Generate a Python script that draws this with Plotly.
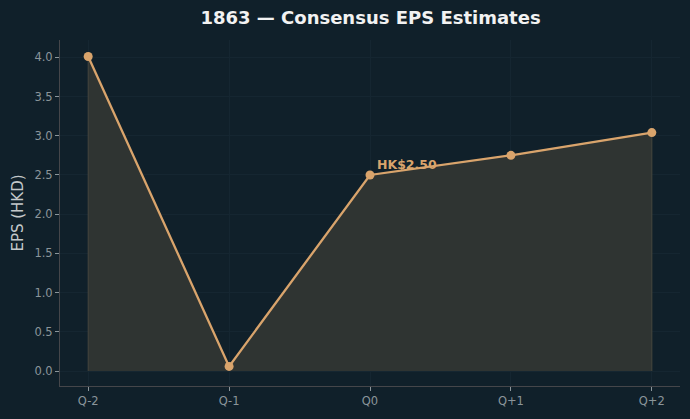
import plotly.graph_objects as go

quarters = ["Q-2", "Q-1", "Q0", "Q+1", "Q+2"]
eps = [4.01, 0.06, 2.50, 2.75, 3.04]
y_ticks = [0.0, 0.5, 1.0, 1.5, 2.0, 2.5, 3.0, 3.5, 4.0]
label_text = "HK$2.50"
label_idx = 2

BG = "#10202a"
LINE = "#d9a46c"
TICK = "#8b959a"
AXIS = "#45464a"
GRID = "#152631"

fig = go.Figure()

# filled area polygon (fill_between style with edge)
poly_x = [quarters[0]] + quarters + [quarters[-1]]
poly_y = [0] + eps + [0]
fig.add_trace(go.Scatter(
    x=poly_x, y=poly_y, mode="lines", fill="toself",
    fillcolor="#2f3432",
    line=dict(color="#46463e", width=1),
    hoverinfo="skip", showlegend=False,
))

fig.add_trace(go.Scatter(
    x=quarters, y=eps, mode="lines+markers",
    line=dict(color=LINE, width=2.3),
    marker=dict(color=LINE, size=9),
    showlegend=False,
))

fig.add_annotation(
    x=quarters[label_idx], y=eps[label_idx], text=f"<b>{label_text}</b>",
    showarrow=False, xanchor="left", yanchor="bottom", xshift=5, yshift=1,
    font=dict(color=LINE, size=12.5, family="DejaVu Sans"),
)

fig.update_layout(
    width=690, height=419,
    paper_bgcolor=BG, plot_bgcolor=BG,
    margin=dict(l=60, r=10, t=40, b=33),
    title=dict(text="<b>1863 — Consensus EPS Estimates</b>", x=0.537, xanchor="center",
               y=0.957, yanchor="middle",
               font=dict(color="#f2f2f2", size=18, family="DejaVu Sans")),
    font=dict(family="DejaVu Sans", color=TICK, size=11),
    xaxis=dict(
        type="category", range=[-0.2, 4.2],
        showline=True, linecolor=AXIS, linewidth=1,
        ticks="outside", ticklen=4, tickcolor=TICK,
        showgrid=True, gridcolor=GRID, gridwidth=1,
        zeroline=False, tickfont=dict(color=TICK, size=11.5),
    ),
    yaxis=dict(
        range=[-0.19, 4.22],
        tickvals=y_ticks, ticktext=[f"{v:.1f}" for v in y_ticks],
        showline=True, linecolor=AXIS, linewidth=1,
        ticks="outside", ticklen=4, tickcolor=TICK,
        showgrid=True, gridcolor=GRID, gridwidth=1,
        zeroline=False, tickfont=dict(color=TICK, size=11.5),
        title=dict(text="EPS (HKD)", font=dict(color="#c3c8ca", size=15), standoff=7),
    ),
)

fig.write_html("out.html")
